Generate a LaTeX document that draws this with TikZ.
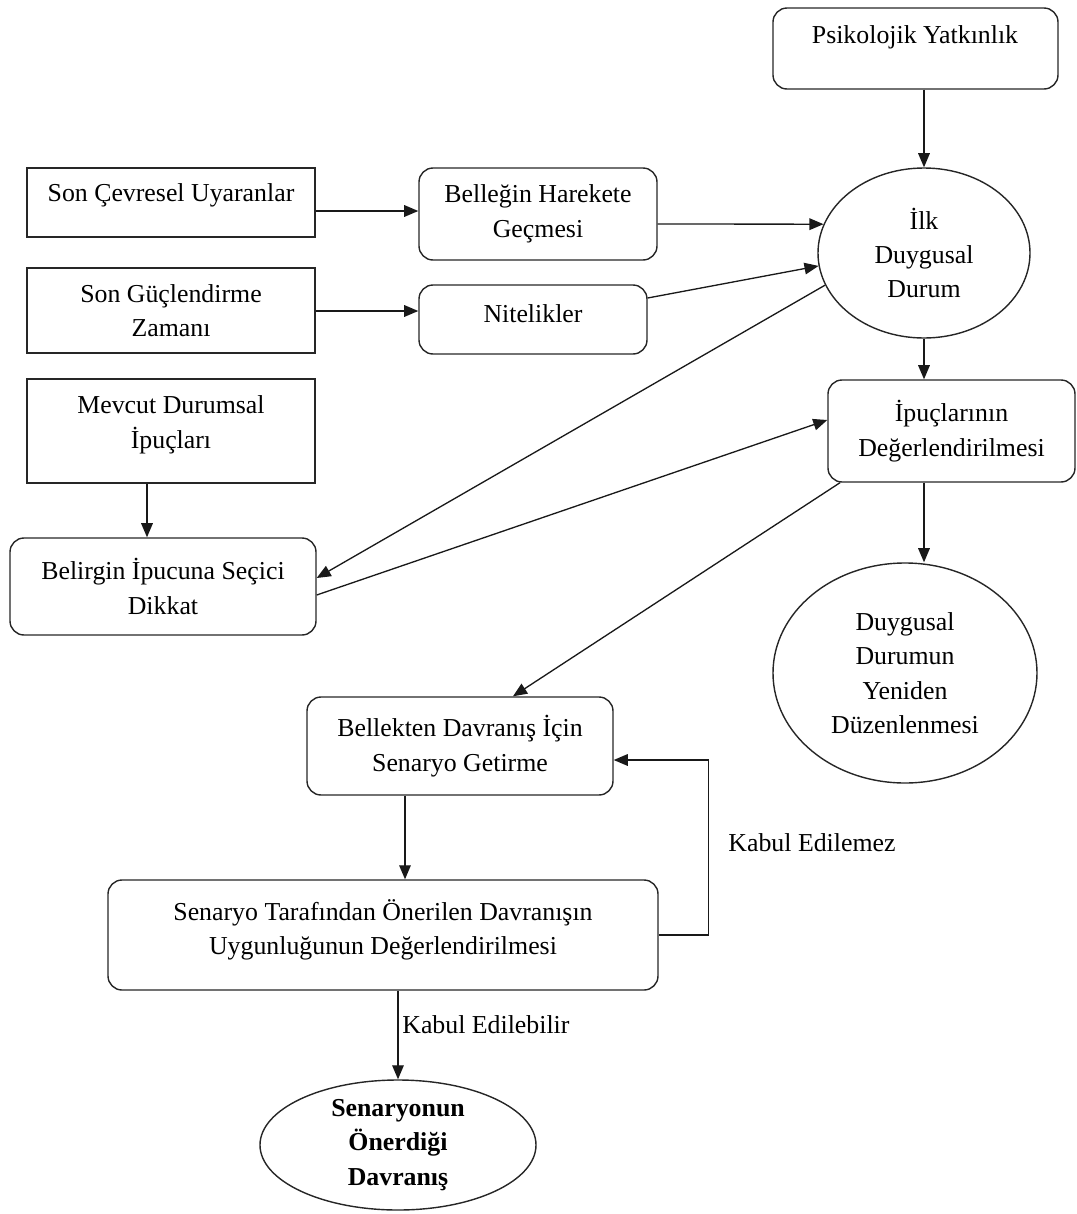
\documentclass[tikz,border=0pt]{standalone}
\usepackage{fontspec}
\setmainfont{Liberation Serif}
\usetikzlibrary{shapes.geometric,arrows.meta,calc}
\begin{document}
\begin{tikzpicture}[x=0.02cm,y=-0.02cm,
  every node/.style={font=\fontsize{14.7}{19.6}\selectfont, align=center, inner sep=0pt},
  sqbox/.style={draw=black!85, line width=0.8pt, rectangle},
  rbox/.style={draw=black!85, line width=0.8pt, rectangle, rounded corners=8pt},
  ebox/.style={draw=black!85, line width=0.8pt, ellipse},
  txt/.style={},
  arr/.style={draw=black!90, line width=0.75pt, -{Triangle[length=8pt,width=6.6pt]}}
]
\useasboundingbox (0,0) rectangle (1076,1214);

% nodes
\node[rbox, minimum width=285*0.02cm, minimum height=81*0.02cm] (psik) at (915.5,48.5) {};
\node[txt] (psikt) at (915,37) {Psikolojik Yatkınlık};

\node[sqbox, minimum width=288*0.02cm, minimum height=69*0.02cm] (sonc) at (171,202.5) {};
\node[txt] (sonct) at (171,195) {Son Çevresel Uyaranlar};

\node[rbox, minimum width=238*0.02cm, minimum height=92*0.02cm] (bel) at (538,214) {Belleğin Harekete\\Geçmesi};
\node[sqbox, minimum width=288*0.02cm, minimum height=85*0.02cm] (song) at (171,310.5) {Son Güçlendirme\\Zamanı};
\node[rbox, minimum width=228*0.02cm, minimum height=69*0.02cm] (nit) at (533,319.5) {};
\node[txt] (nitt) at (533,314) {Nitelikler};
\node[sqbox, minimum width=288*0.02cm, minimum height=104*0.02cm] (mev) at (171,431) {};
\node[txt] (mevt) at (171,425) {Mevcut Durumsal\\İpuçları};
\node[rbox, minimum width=306*0.02cm, minimum height=97*0.02cm] (belir) at (163,586.5) {Belirgin İpucuna Seçici\\Dikkat};

\node[ebox, minimum width=212*0.02cm, minimum height=170*0.02cm] (ilk) at (924,253) {İlk\\Duygusal\\Durum};
\node[rbox, minimum width=247*0.02cm, minimum height=102*0.02cm] (ipu) at (951.5,431) {İpuçlarının\\Değerlendirilmesi};
\node[ebox, minimum width=264*0.02cm, minimum height=220*0.02cm] (dd) at (905,673) {Duygusal\\Durumun\\Yeniden\\Düzenlenmesi};

\node[rbox, minimum width=306*0.02cm, minimum height=98*0.02cm] (bek) at (460,746) {Bellekten Davranış İçin\\Senaryo Getirme};
\node[rbox, minimum width=550*0.02cm, minimum height=110*0.02cm] (sen) at (383,935) {};
\node[txt] (sent) at (383,930) {Senaryo Tarafından Önerilen Davranışın\\Uygunluğunun Değerlendirilmesi};
\node[ebox, minimum width=276*0.02cm, minimum height=130*0.02cm] (son) at (398,1145) {\bfseries Senaryonun\\\bfseries Önerdiği\\\bfseries Davranış};

% labels
\node[txt] (kem) at (812,843) {Kabul Edilemez};
\node[txt, anchor=west] (keb) at (402,1025) {Kabul Edilebilir};

% connectors
\draw[arr] (ilk.north |- psik.south) -- (ilk.north);
\draw[arr] (sonc.east |- 0,211) -- (bel.west |- 0,211);
\draw[arr] (bel.east |- 0,224) -- (ilk.164);
\draw[arr] (song.east |- 0,311) -- (nit.west |- 0,311);
\draw[arr] (nit.east |- 0,298) -- (ilk.187);
\draw[arr] (mev.south -| 147,0) -- (belir.north -| 147,0);
\draw[arr] (ilk.198) -- (belir.east |- 0,578);
\draw[arr] (belir.east |- 0,595) -- (ipu.west |- 0,420);
\draw[arr] (ilk.south) -- (ipu.north -| ilk.south);
\draw[arr] (ipu.south -| ilk.south) -- (dd.north -| ilk.south);
\draw[arr] (ipu.south -| 840,0) -- (bek.north -| 513,0);
\draw[arr] (bek.south -| 405,0) -- (sen.north -| 405,0);
\draw[arr] (sen.east) -- ++(50,0) |- (bek.east |- 0,760);
\draw[arr] (sen.south -| son.north) -- (son.north);
\end{tikzpicture}
\end{document}
